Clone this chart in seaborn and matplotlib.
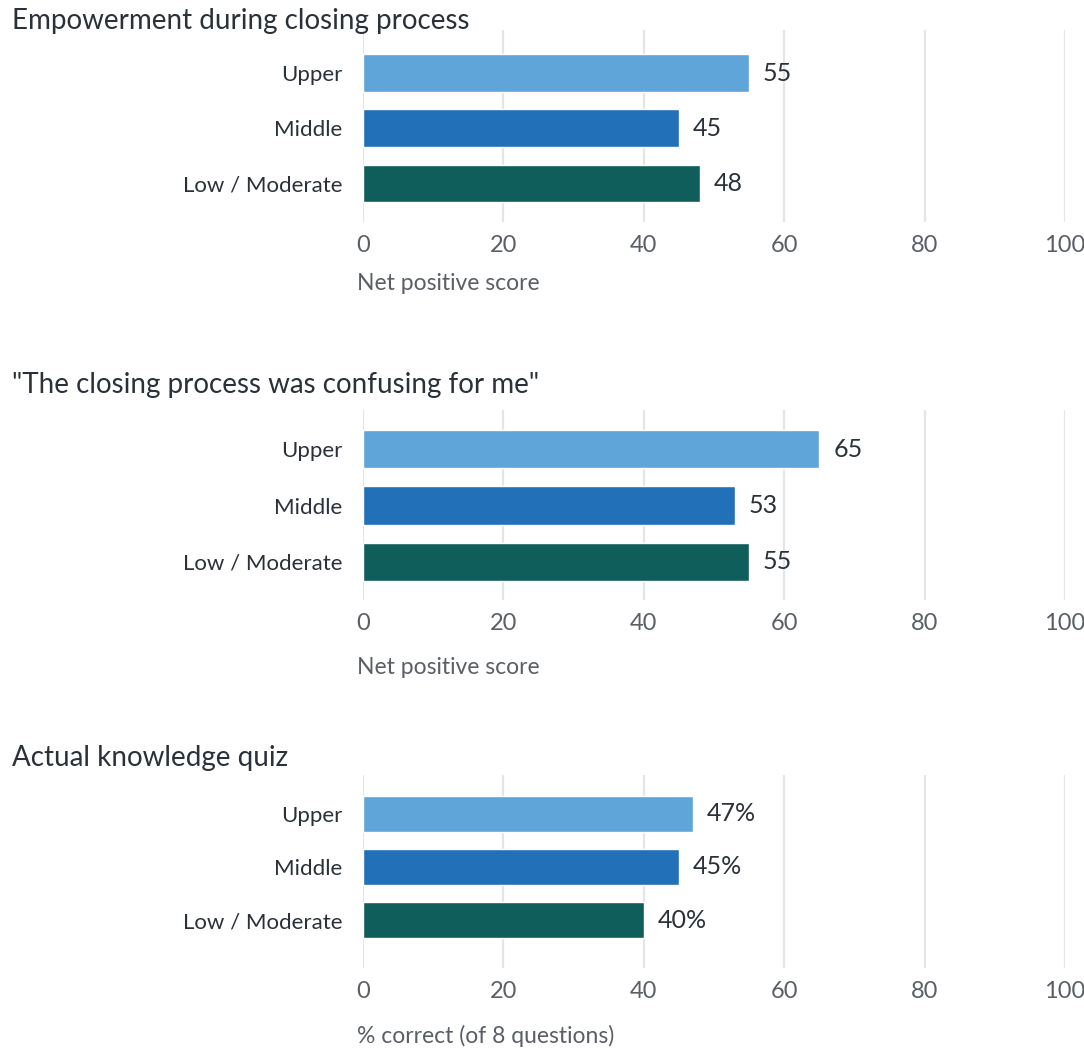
import matplotlib
matplotlib.use("Agg")
import matplotlib.pyplot as plt
import seaborn as sns
import pandas as pd

# Survey results by income group
groups = ["Upper", "Middle", "Low / Moderate"]
empowerment = [55, 45, 48]
confusing = [65, 53, 55]
quiz = [47, 45, 40]

titles = [
    "Empowerment during closing process",
    "\"The closing process was confusing for me\"",
    "Actual knowledge quiz",
]
xlabels = ["Net positive score", "Net positive score", "% correct (of 8 questions)"]
label_fmt = ["{:.0f}", "{:.0f}", "{:.0f}%"]
xticks = [0, 20, 40, 60, 80, 100]

palette = ["#60a5da", "#2271b8", "#0f5e5c"]

sns.set_theme(style="white")
plt.rcParams["font.family"] = ["Lato", "DejaVu Sans"]

W, H = 1084, 1050
fig = plt.figure(figsize=(W / 100, H / 100), dpi=100)

TEXT = "#2b313a"
TICK = "#5a5f66"
GRID = "#e3e5e8"

# pixel layout of each panel:
# (title_y, axes_top, axes_bottom, ylim_top, ylim_bottom, xlabel_y)
panels = [
    (21, 30, 222, -0.78, 2.7, 283),
    (385, 410, 600, -0.7, 2.68, 667),
    (758, 775, 968, -0.73, 2.9, 1036),
]
x0_px, x1_px = 363, 1065

for i, (vals, (ty, top, bot, yl0, yl1, xly)) in enumerate(
        zip([empowerment, confusing, quiz], panels)):
    ax = fig.add_axes([x0_px / W, 1 - bot / H, (x1_px - x0_px) / W, (bot - top) / H])
    df = pd.DataFrame({"group": groups, "value": vals})
    sns.barplot(data=df, x="value", y="group", hue="group", palette=palette,
                legend=False, width=0.68, ax=ax, orient="h", saturation=1)
    ax.set_xlim(0, 100)
    ax.set_ylim(yl1, yl0)
    ax.set_xticks(xticks)
    ax.grid(axis="x", color=GRID, linewidth=1.6)
    ax.set_axisbelow(True)
    for s in ax.spines.values():
        s.set_visible(False)
    ax.tick_params(axis="x", length=0, pad=9, labelsize=17, labelcolor=TICK)
    ax.tick_params(axis="y", length=0, pad=15, labelsize=16, labelcolor=TEXT)
    ax.set_ylabel("")
    ax.set_xlabel("")
    # value labels just past the end of each bar
    for p in ax.patches:
        w = p.get_width()
        ax.annotate(label_fmt[i].format(w), (w, p.get_y() + p.get_height() / 2),
                    xytext=(10, 0), textcoords="offset points",
                    ha="left", va="center", fontsize=18, color=TEXT)
    fig.text(12 / W, 1 - ty / H, titles[i], fontsize=20, color=TEXT,
             ha="left", va="center")
    fig.text(357 / W, 1 - xly / H, xlabels[i], fontsize=16.5, color=TICK,
             ha="left", va="center")

fig.savefig("out.png", dpi=100, facecolor="white")
